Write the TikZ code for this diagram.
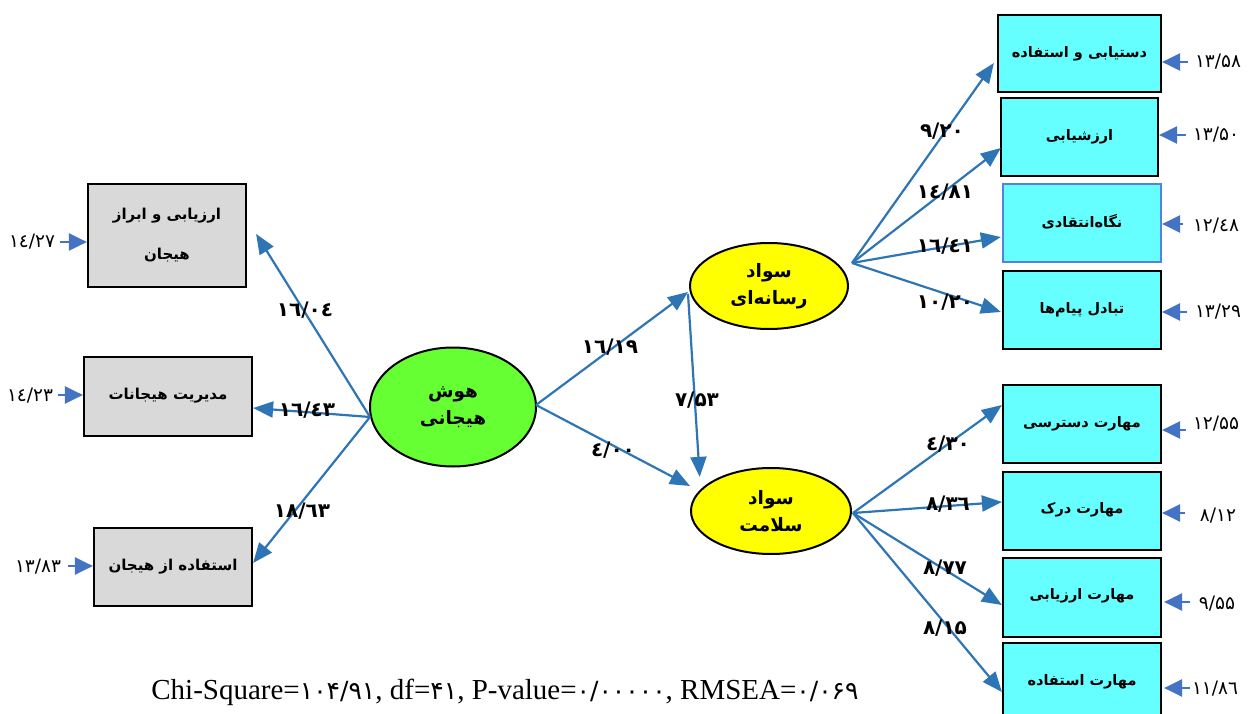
\documentclass[tikz,border=0pt]{standalone}
\usepackage{fontspec}
\setmainfont{Liberation Serif}
\newfontfamily\arabicfont[Script=Arabic]{DejaVu Sans}
\newfontfamily\numfont{DejaVu Sans}
\TeXXeTstate=1
\usetikzlibrary{arrows.meta,shapes.geometric,calc}
\definecolor{arrowblue}{RGB}{46,117,182}
\definecolor{inblue}{RGB}{68,114,196}
\definecolor{boxgray}{RGB}{217,217,217}
\definecolor{boxcyan}{RGB}{102,255,255}
\definecolor{ellgreen}{RGB}{102,255,51}
\definecolor{ellyellow}{RGB}{255,255,0}
\definecolor{edgeblue}{RGB}{84,130,220}
\tikzset{
  gbox/.style={draw=black, line width=2.2pt, fill=boxgray, inner sep=0pt, align=center,
    font=\arabicfont\bfseries\fontsize{15}{20}\selectfont},
  cbox/.style={draw=black, line width=2.2pt, fill=boxcyan, inner sep=0pt, align=center,
    minimum width=158pt, minimum height=78pt,
    font=\arabicfont\bfseries\fontsize{14.5}{20}\selectfont},
  lat/.style={draw=black, line width=2pt, ellipse, inner sep=0pt, align=center,
    font=\arabicfont\bfseries\fontsize{18.5}{27}\selectfont},
  path/.style={draw=arrowblue, line width=2.2pt, -{Triangle[length=20pt,width=16pt]}},
  inarr/.style={draw=inblue, line width=2.4pt, -{Triangle[length=18pt,width=17pt]}},
  coef/.style={inner sep=0pt, font=\numfont\bfseries\fontsize{20}{22}\selectfont},
  err/.style={inner sep=0pt, font=\numfont\fontsize{18.5}{22}\selectfont},
}
\begin{document}
\begin{tikzpicture}[x=1pt,y=-1pt]
\useasboundingbox (0,0) rectangle (1251,714);
\clip (0,0) rectangle (1251,714);
% left boxes
\node[gbox, minimum width=158pt, minimum height=103pt] (l1) at (167,235.5)
  {\beginR ارزیابی و ابراز\endR\\[20pt]\beginR هیجان\endR};
\node[gbox, minimum width=168pt, minimum height=79pt] (l2) at (168,396.5)
  {\raisebox{5pt}{\beginR مدیریت هیجانات\endR}};
\node[gbox, minimum width=158pt, minimum height=78pt] (l3) at (173,567)
  {\raisebox{5pt}{\beginR استفاده از هیجان\endR}};
% latent variables
\node[lat, fill=ellgreen, minimum width=166pt, minimum height=119pt] (eq) at (453,407)
  {\beginR هوش\endR\\\beginR هیجانی\endR};
\node[lat, fill=ellyellow, minimum width=158pt, minimum height=86pt] (ml) at (769,286)
  {\beginR سواد\endR\\\beginR رسانه‌ای\endR};
\node[lat, fill=ellyellow, minimum width=160pt, minimum height=86pt] (hl) at (771,511)
  {\beginR سواد\endR\\\beginR سلامت\endR};
% right top boxes
\node[cbox, minimum width=163pt, minimum height=77pt] (r1) at (1079.5,53.5) {\raisebox{4pt}{\beginR دستیابی و استفاده\endR}};
\node[cbox, minimum width=157pt] (r2) at (1079.5,137) {\raisebox{3pt}{\beginR ارزشیابی\endR}};
\node[cbox, draw=edgeblue] (r3) at (1082,223) {\raisebox{5pt}{\beginR نگاه‌انتقادی\endR}};
\node[cbox] (r4) at (1082,310) {\raisebox{5pt}{\beginR تبادل پیام‌ها\endR}};
% right bottom boxes
\node[cbox] (s1) at (1082,424) {\raisebox{5pt}{\beginR مهارت دسترسی\endR}};
\node[cbox] (s2) at (1082,511) {\raisebox{6pt}{\beginR مهارت درک\endR}};
\node[cbox, minimum height=79pt] (s3) at (1082,597.5) {\raisebox{7pt}{\beginR مهارت ارزیابی\endR}};
\node[cbox, minimum height=80pt] (s4) at (1082,683) {\raisebox{7pt}{\beginR مهارت استفاده\endR}};
% source coordinates
\coordinate (eqL) at (370,417);
\coordinate (eqR) at (536,405);
\coordinate (mlR) at (852,263);
\coordinate (hlR) at (853,513);
\coordinate (mlB) at (688,294);
% paths from emotional intelligence
\draw[path] (eqL) -- ($(l1.north east)+(9,51)$);
\draw[path] (eqL) -- ($(l2.east)+(0,11.5)$);
\draw[path] (eqL) -- ($(l3.east)+(0,-4)$);
\draw[path] (eqR) -- ($(ml.west)+(-1,6)$);
\draw[path] (eqR) -- ($(hl.west)+(0,-25)$);
\draw[path] (mlB) -- ($(hl.north west)+(-14,-3)$);
% media literacy indicators
\draw[path] (mlR) -- ($(r1.west)+(-3,9.5)$);
\draw[path] (mlR) -- ($(r2.west)+(1,11)$);
\draw[path] (mlR) -- ($(r3.west)+(-1,14)$);
\draw[path] (mlR) -- ($(r4.west)+(-1,2)$);
% health literacy indicators
\draw[path] (hlR) -- ($(s1.west)+(0,-19)$);
\draw[path] (hlR) -- ($(s2.west)+(0,-9)$);
\draw[path] (hlR) -- ($(s3.west)+(0,7.5)$);
\draw[path] (hlR) -- ($(s4.west)+(0,9)$);
% coefficient labels
\node[coef] (c1) at (305,310) {۱٦/۰٤};
\node[coef] (c2) at (307,410) {۱٦/٤۳};
\node[coef] (c3) at (302,511) {۱۸/٦۳};
\node[coef] (c4) at (610,347) {۱٦/۱۹};
\node[coef] (c5) at (613,450) {٤/۰۰};
\node[coef] (c6) at (697,400) {۷/۵۳};
\node[coef] (c7) at (942,131) {۹/۲۰};
\node[coef] (c8) at (945,192) {۱٤/۸۱};
\node[coef] (c9) at (945,246) {۱٦/٤۱};
\node[coef] (c10) at (945,302) {۱۰/۲۰};
\node[coef] (c11) at (948,444) {٤/۳۰};
\node[coef] (c12) at (948,504) {۸/۳٦};
\node[coef] (c13) at (945,568) {۸/۷۷};
\node[coef] (c14) at (945,628) {۸/۱۵};
% error terms left
\node[err] (el1) at (32,242) {۱٤/۲۷};
\node[err] (el2) at (30,396) {۱٤/۲۳};
\node[err] (el3) at (38,567) {۱۳/۸۳};
\coordinate (al1) at (60,242);
\coordinate (al2) at (58,395);
\coordinate (al3) at (68,566);
\draw[inarr] (al1) -- (l1.west |- al1);
\draw[inarr] (al2) -- (l2.west |- al2);
\draw[inarr] (al3) -- (l3.west |- al3);
% error terms right
\node[err] (er1) at (1218,62) {۱۳/۵۸};
\node[err] (er2) at (1216,135) {۱۳/۵۰};
\node[err] (er3) at (1216,226) {۱۲/٤۸};
\node[err] (er4) at (1218,312) {۱۳/۲۹};
\node[err] (er5) at (1216,424) {۱۲/۵۵};
\node[err] (er6) at (1218,516) {۸/۱۲};
\node[err] (er7) at (1217,604) {۹/۵۵};
\node[err] (er8) at (1215,689) {۱۱/۸٦};
\coordinate (ar1) at (1188,62);
\coordinate (ar2) at (1186,135);
\coordinate (ar3) at (1183,224);
\coordinate (ar4) at (1187,312);
\coordinate (ar5) at (1186,430);
\coordinate (ar6) at (1185,513);
\coordinate (ar7) at (1190,602);
\coordinate (ar8) at (1190,688);
\draw[inarr] (ar1) -- (r1.east |- ar1);
\draw[inarr] (ar2) -- (r2.east |- ar2);
\draw[inarr] (ar3) -- (r3.east |- ar3);
\draw[inarr] (ar4) -- (r4.east |- ar4);
\draw[inarr] (ar5) -- (s1.east |- ar5);
\draw[inarr] (ar6) -- (s2.east |- ar6);
\draw[inarr] (ar7) -- ([xshift=2pt]s3.east |- ar7);
\draw[inarr] (ar8) -- ([xshift=2pt]s4.east |- ar8);
% fit statistics
\node[inner sep=0pt, font=\fontsize{29}{32}\selectfont] (fit) at (505,692)
  {Chi-Square={\numfont\fontsize{25}{28}\selectfont ۱۰۴/۹۱}, df={\numfont\fontsize{25}{28}\selectfont ۴۱}, P-value={\numfont\fontsize{25}{28}\selectfont ۰/۰۰۰۰۰}, RMSEA={\numfont\fontsize{25}{28}\selectfont ۰/۰۶۹}};
\end{tikzpicture}
\end{document}
